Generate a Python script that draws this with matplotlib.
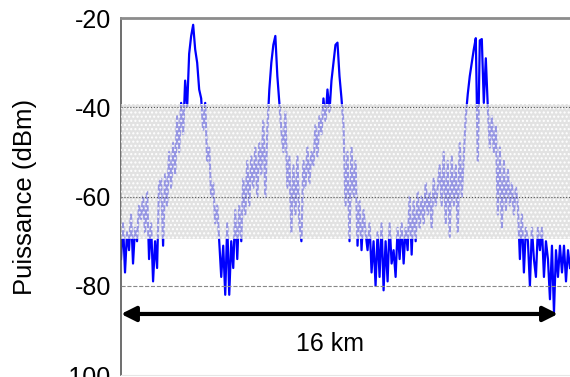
import numpy as np
import matplotlib.pyplot as plt

plt.rcParams['font.family'] = ['Liberation Sans', 'DejaVu Sans']
plt.rcParams['axes.unicode_minus'] = False

# trace puissance (dBm), un point tous les ~0.073 km
puissance = [
    -74, -66, -77, -68, -72, -64, -75, -67, -70, -62,
    -65, -60, -68, -59, -74, -66, -79, -70, -76, -57,
    -56, -71, -55, -62, -50, -58, -48, -55, -42, -50,
    -39, -46, -34, -40, -28, -24, -21.5, -27, -30, -36,
    -38, -45, -39, -52, -49, -60, -57, -66, -62, -70,
    -78, -71, -82, -66, -82, -70, -76, -63, -74, -62,
    -70, -56, -64, -52, -62, -51, -58, -49, -60, -48,
    -55, -43, -60, -45, -36, -30, -26, -24, -33, -39,
    -45, -50, -41, -58, -51, -68, -53, -64, -51, -66,
    -70, -52, -58, -49, -57, -50, -53, -44, -51, -42,
    -46, -38, -43, -36, -41, -34, -30, -26, -25.5, -33,
    -38, -44, -62, -50, -70, -49, -60, -52, -71, -61,
    -72, -63, -68, -72, -66, -77, -70, -80, -68, -78,
    -66, -81, -70, -79, -66, -75, -72, -78, -67, -74,
    -66, -75, -67, -72, -60, -73, -61, -70, -59, -67,
    -60, -66, -57, -64, -59, -67, -56, -62, -58, -53,
    -62, -50, -66, -52, -69, -51, -62, -53, -68, -48,
    -60, -51, -42, -37, -33, -30, -27, -24.5, -52, -25,
    -24.7, -39, -29, -40, -49, -42, -50, -44, -64, -49,
    -67, -52, -63, -54, -62, -57, -64, -58, -62, -74,
    -64, -77, -67, -70, -80, -67, -74, -78, -67, -72,
    -67, -78, -70, -74, -83, -71, -86, -72, -78, -71,
    -77, -71, -79, -72, -76,
]
distance_max = 16.44  # km
longueur = 16  # km (fleche)
yticks = [-20, -40, -60, -80, -100]
bande = (-69.6, -39.2)

distance = np.linspace(0, distance_max, len(puissance))

fig = plt.figure(figsize=(5.7, 3.77), dpi=100)
ax = fig.add_axes([121 / 570, 0.005, 1 - 121 / 570, 0.947])

ax.plot(distance, puissance, color='#0000ff', lw=1.6, zorder=2)

# bande grise
ax.axhspan(bande[0], bande[1], facecolor='#d6d6d6', alpha=0.7, lw=0, zorder=3)
ax.axhspan(bande[0], bande[1], facecolor='none', hatch='....', edgecolor='white', lw=0, zorder=3)

ax.axhline(-80, color='#888888', ls='--', lw=0.8, zorder=4)
for v in [-40, -60]:
    ax.axhline(v, color='#555555', ls=':', lw=0.8, zorder=4)

ax.annotate('', xy=(longueur, -86.3), xytext=(0, -86.3),
            arrowprops=dict(arrowstyle='<|-|>', color='black', lw=3, mutation_scale=22,
                            shrinkA=0, shrinkB=0), zorder=5)
ax.text(7.65, -93, '16 km', ha='center', va='center', fontsize=18)

ax.set_xlim(0, distance_max)
ax.set_ylim(-100, -20)
ax.set_yticks(yticks)
ax.set_xticks([])
ax.tick_params(axis='y', length=0, pad=7, labelsize=18)
ax.set_ylabel('Puissance (dBm)', fontsize=18.5, labelpad=17)

ax.spines['right'].set_visible(False)
ax.spines['top'].set_color('#8c8c8c')
ax.spines['top'].set_linewidth(2)
ax.spines['left'].set_color('#555555')
ax.spines['left'].set_linewidth(1.2)
ax.spines['bottom'].set_color('#e6e6e6')

fig.savefig('out.png', dpi=100)
